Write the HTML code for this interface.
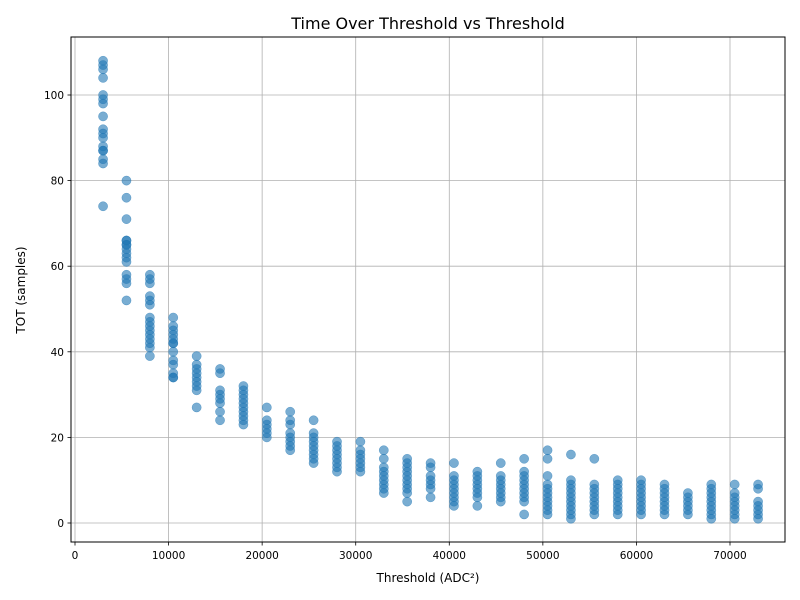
<!DOCTYPE html>
<html><head><meta charset="utf-8">
<style>
body{margin:0;background:#fff;}
svg{display:block;font-family:"DejaVu Sans","Liberation Sans",sans-serif;}
</style></head>
<body>
<svg id="chart" width="800" height="600" viewBox="0 0 800 600" xmlns="http://www.w3.org/2000/svg">
<rect width="800" height="600" fill="#fff"/>
<g id="grid"></g>
<g id="points"></g>
<rect x="71" y="37" width="714" height="505" fill="none" stroke="#000" stroke-width="1"/>
<g id="ticks"></g>
<text x="428" y="29" font-size="16" text-anchor="middle">Time Over Threshold vs Threshold</text>
<text x="428" y="582" font-size="12" text-anchor="middle">Threshold (ADC²)</text>
<text transform="translate(25,290) rotate(-90)" font-size="12" text-anchor="middle">TOT (samples)</text>
</svg>
<script>
const thresholds=[3000,5500,8000,10500,13000,15500,18000,20500,23000,25500,28000,30500,33000,35500,38000,40500,43000,45500,48000,50500,53000,55500,58000,60500,63000,65500,68000,70500,73000];
const totValues=[
[108,107,106,104,100,99,98,95,92,91,90,88,87,87,85,84,74],
[80,76,71,66,66,65,65,64,63,62,61,58,57,56,52],
[58,57,56,53,52,51,48,47,46,45,44,43,42,41,39],
[48,46,45,44,43,42,42,40,38,37,35,34,34],
[39,37,36,35,34,33,32,31,27],
[36,35,31,30,29,28,26,24],
[32,31,30,29,28,27,26,25,24,23],
[27,24,23,22,21,20],
[26,24,23,21,20,19,18,17],
[24,21,20,19,18,17,16,15,14],
[19,18,17,16,15,14,13,12],
[19,17,16,15,14,13,12],
[17,15,13,12,11,10,9,8,7],
[15,14,13,12,11,10,9,8,7,5],
[14,13,11,10,9,8,6],
[14,11,10,9,8,7,6,5,4],
[12,11,10,9,8,7,6,4],
[14,11,10,9,8,7,6,5],
[15,12,11,10,9,8,7,6,5,2],
[17,15,11,9,8,7,6,5,4,3,2],
[16,10,9,8,7,6,5,4,3,2,1],
[15,9,8,7,6,5,4,3,2],
[10,9,8,7,6,5,4,3,2],
[10,9,8,7,6,5,4,3,2],
[9,8,7,6,5,4,3,2],
[7,6,5,4,3,2],
[9,8,7,6,5,4,3,2,1],
[9,7,6,5,4,3,2,1],
[9,8,5,4,3,2,1]
];
const xTicks=[0,10000,20000,30000,40000,50000,60000,70000];
const yTicks=[0,20,40,60,80,100];

const NS="http://www.w3.org/2000/svg";
const X0=71,X1=785,Y0=37,Y1=542;
function sx(v){return 75+v*(655/70000);}
function sy(v){return 523-v*(428/100);}
function mk(tag,attrs,parent){const e=document.createElementNS(NS,tag);for(const k in attrs)e.setAttribute(k,attrs[k]);parent.appendChild(e);return e;}
const grid=document.getElementById('grid'),ticks=document.getElementById('ticks'),pts=document.getElementById('points');
xTicks.forEach(t=>{
  const x=sx(t);
  const gl=mk('line',{x1:x,x2:x,y1:Y0,y2:Y1,stroke:'#b0b0b0','stroke-width':0.8},grid);
  
  
  mk('line',{x1:x,x2:x,y1:Y1,y2:Y1+3.5,stroke:'#000','stroke-width':0.8},ticks);
  const tx=mk('text',{x:x,y:Y1+17,'font-size':10.5,'text-anchor':'middle'},ticks);
  tx.textContent=t;
  
  
});
yTicks.forEach(t=>{
  const y=sy(t);
  const gl=mk('line',{x1:X0,x2:X1,y1:y,y2:y,stroke:'#b0b0b0','stroke-width':0.8},grid);
  
  
  mk('line',{x1:X0-3.5,x2:X0,y1:y,y2:y,stroke:'#000','stroke-width':0.8},ticks);
  const tx=mk('text',{x:X0-7,y:y+4,'font-size':10.5,'text-anchor':'end'},ticks);
  tx.textContent=t;
  
  
});
thresholds.forEach((th,i)=>{
  totValues[i].forEach(v=>{
    const c=mk('circle',{cx:sx(th),cy:sy(v),r:4.6,fill:'#1f77b4','fill-opacity':0.6,stroke:'#1f77b4','stroke-opacity':0.6,'stroke-width':0.5},pts);
    
    
  });
});
</script>
</body></html>
